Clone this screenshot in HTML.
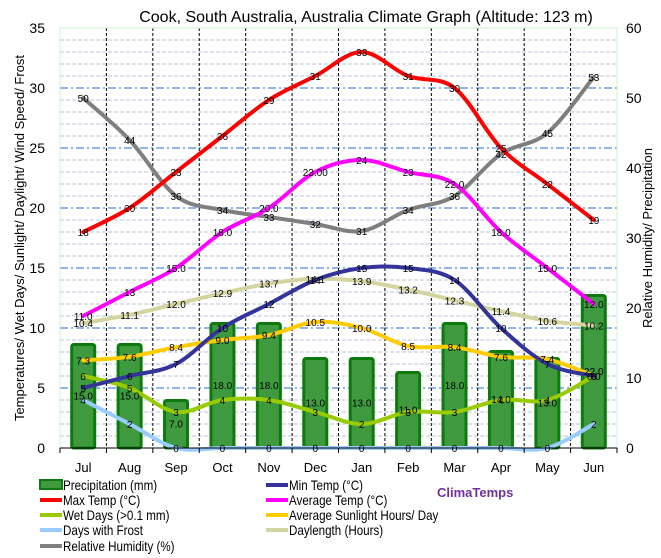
<!DOCTYPE html>
<html><head><meta charset="utf-8">
<style>
body{margin:0;background:#fff;}
svg{display:block;font-family:"Liberation Sans",sans-serif;}
</style></head>
<body>
<svg id="c" width="661" height="558" viewBox="0 0 661 558">
<text x="366" y="22" font-size="16" text-anchor="middle">Cook, South Australia, Australia Climate Graph (Altitude: 123 m)</text>
<g id="grid"></g>
<g id="bars"></g>
<g id="lines"></g>
<g id="labels"></g>
<g id="axes"></g>
<text transform="translate(24,238) rotate(-90)" font-size="13" text-anchor="middle">Temperatures/ Wet Days/ Sunlight/ Daylight/ Wind Speed/ Frost</text>
<text transform="translate(652,238) rotate(-90)" font-size="13" text-anchor="middle">Relative Humidity/ Precipitation</text>
<g id="legend"></g>
<text x="437" y="497" font-size="13" font-weight="bold" fill="#7030a0">ClimaTemps</text>
</svg>
<script>
const months=["Jul","Aug","Sep","Oct","Nov","Dec","Jan","Feb","Mar","Apr","May","Jun"];
const precip=[15.0,15.0,7.0,18.0,18.0,13.0,13.0,11.0,18.0,14.0,13.0,22.0];
const maxTemp=[18,20,23,26,29,31,33,31,30,25,22,19];
const minTemp=[5,6,7,10,12,14,15,15,14,10,7,6];
const avgTemp=[11.0,13,15.0,18.0,20.0,23.00,24,23,22.0,18.0,15.0,12.0];
const avgTempLbl=["11.0","13","15.0","18.0","20.0","23.00","24","23","22.0","18.0","15.0","12.0"];
const wetDays=[6,5,3,4,4,3,2,3,3,4,4,6];
const sunlight=[7.3,7.6,8.4,9.0,9.4,10.5,10.0,8.5,8.4,7.6,7.4,6.0];
const frost=[4,2,0,0,0,0,0,0,0,0,0,2];
const daylength=[10.4,11.1,12.0,12.9,13.7,14.1,13.9,13.2,12.3,11.4,10.6,10.2];
const humidity=[50,44,36,34,33,32,31,34,36,42,45,53];
const leftTicks=[0,5,10,15,20,25,30,35];
const rightTicks=[0,10,20,30,40,50,60];

const NS="http://www.w3.org/2000/svg";
const X0=60,X1=617,Y0=448,Y1=28;
const step=(X1-X0)/12;
const xS=i=>X0+step*(i+0.5);
const yL=v=>Y0-(Y0-Y1)*v/35;
const yR=v=>Y0-(Y0-Y1)*v/60;
function mk(tag,attrs,parent,txt){const e=document.createElementNS(NS,tag);for(const k in attrs)e.setAttribute(k,attrs[k]);if(txt!==undefined)e.textContent=txt;parent.appendChild(e);return e;}
const G=id=>document.getElementById(id);
const grid=G("grid"),bars=G("bars"),lines=G("lines"),labels=G("labels"),axes=G("axes"),legend=G("legend");

for(let v=1;v<35;v++){
  const l=mk("line",{x1:X0,x2:X1,y1:yL(v),y2:yL(v),stroke:v%5==0?"#1f6fd0":"#b8c4d8","stroke-width":1,"stroke-dasharray":v%5==0?"8,3,2,3":"4,2"},grid);
  
  
}
for(let i=1;i<12;i++){
  const l=mk("line",{x1:X0+step*i,x2:X0+step*i,y1:Y1,y2:Y0,stroke:"#000","stroke-width":1,"stroke-dasharray":"3,2"},grid);
  
  
}
const fr=mk("rect",{x:X0,y:Y1,width:X1-X0,height:Y0-Y1,fill:"none",stroke:"#ccf0cc"},grid);



precip.forEach((v,i)=>{
  const y=yR(v);
  const r=mk("rect",{x:xS(i)-11.5,y:y+1.5,width:23,height:Y0-y-1.5,rx:2,fill:"#3f9a3f",stroke:"#0d7a0d","stroke-width":3},bars);
  
  
});

function smooth(pts){
  let d="M"+pts[0][0]+","+pts[0][1];
  for(let i=0;i<pts.length-1;i++){
    const p0=pts[i-1]||pts[i],p1=pts[i],p2=pts[i+1],p3=pts[i+2]||p2;
    const c1=[p1[0]+(p2[0]-p0[0])/6,p1[1]+(p2[1]-p0[1])/6];
    const c2=[p2[0]-(p3[0]-p1[0])/6,p2[1]-(p3[1]-p1[1])/6];
    d+=` C${c1[0]},${c1[1]} ${c2[0]},${c2[1]} ${p2[0]},${p2[1]}`;
  }
  return d;
}
const series=[
  {name:"daylength",data:daylength,lbl:daylength.map(v=>v.toFixed(1)),color:"#d4d4a0",ys:yL},
  {name:"humidity",data:humidity,lbl:humidity.map(String),color:"#7f7f7f",ys:yR},
  {name:"frost",data:frost,lbl:frost.map(String),color:"#99ccff",ys:yL},
  {name:"wet-days",data:wetDays,lbl:wetDays.map(String),color:"#99cc00",ys:yL},
  {name:"sunlight",data:sunlight,lbl:sunlight.map(v=>v.toFixed(1)),color:"#ffcc00",ys:yL},
  {name:"min-temp",data:minTemp,lbl:minTemp.map(String),color:"#333399",ys:yL},
  {name:"avg-temp",data:avgTemp,lbl:avgTempLbl,color:"#ff00ff",ys:yL},
  {name:"max-temp",data:maxTemp,lbl:maxTemp.map(String),color:"#ff0000",ys:yL},
];
series.forEach(s=>{
  const pts=s.data.map((v,i)=>[xS(i),s.ys(v)]);
  const p=mk("path",{d:smooth(pts),fill:"none",stroke:s.color,"stroke-width":4,"stroke-linecap":"round"},lines);
  
  
  s.data.forEach((v,i)=>{
    const t=mk("text",{x:xS(i),y:s.ys(v)+4,"font-size":10,"text-anchor":"middle",fill:"#000"},labels,s.lbl[i]);
    
    
  });
});
precip.forEach((v,i)=>{
  const t=mk("text",{x:xS(i),y:(yR(v)+Y0)/2+4,"font-size":10,"text-anchor":"middle",fill:"#000"},labels,v.toFixed(1));
  
  
});

mk("line",{x1:X0,x2:X1,y1:Y0,y2:Y0,stroke:"#000"},axes);
leftTicks.forEach(v=>{
  const t=mk("text",{x:45,y:yL(v)+5,"font-size":14,"text-anchor":"end"},axes,v);
  
  
});
rightTicks.forEach(v=>{
  const t=mk("text",{x:626,y:yR(v)+5,"font-size":14},axes,v);
  
  
});
for(let i=0;i<=12;i++) mk("line",{x1:X0+step*i,x2:X0+step*i,y1:Y0,y2:Y0+5,stroke:"#000"},axes);
months.forEach((m,i)=>{
  const t=mk("text",{x:xS(i),y:472,"font-size":13,"text-anchor":"middle"},axes,m);
  
  
});

const leg=[
  ["Precipitation (mm)","#2e8b2e",40,485,true],["Min Temp (°C)","#333399",266,485],
  ["Max Temp (°C)","#ff0000",40,500],["Average Temp (°C)","#ff00ff",266,500],
  ["Wet Days (>0.1 mm)","#99cc00",40,515],["Average Sunlight Hours/ Day","#ffcc00",266,515],
  ["Days with Frost","#99ccff",40,530],["Daylength (Hours)","#d4d4a0",266,530],
  ["Relative Humidity (%)","#7f7f7f",40,546]
];
leg.forEach(l=>{
  const g=mk("g",{},legend);
  
  
  if(l[4]) mk("rect",{x:l[2],y:l[3]-5,width:22,height:9,fill:"#3f9a3f",stroke:"#0d7a0d","stroke-width":2},g);
  else mk("line",{x1:l[2],x2:l[2]+22,y1:l[3],y2:l[3],stroke:l[1],"stroke-width":4},g);
  const t=mk("text",{x:0,y:0,"font-size":13.5,transform:`translate(${l[2]+23},${l[3]+5}) scale(0.86,1)`},g,l[0]);
});
</script>
</body></html>
